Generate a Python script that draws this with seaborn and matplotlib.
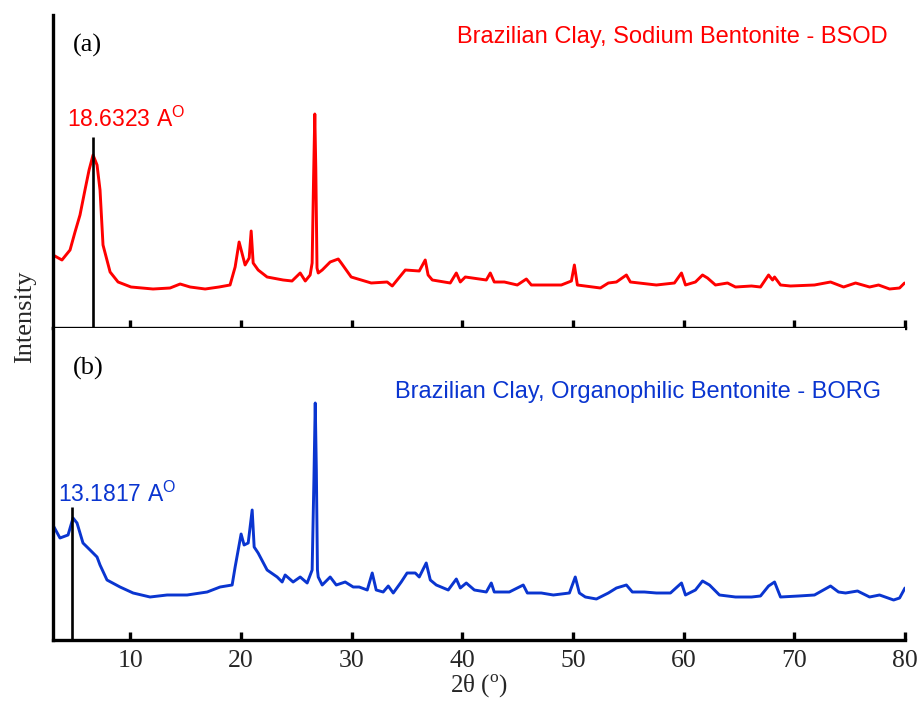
import numpy as np
import pandas as pd
import matplotlib
matplotlib.use("Agg")
import matplotlib.pyplot as plt
import seaborn as sns

# ---- data (2theta in degrees, intensity in arbitrary units) ----
bsod_2theta = [3.0, 3.81, 4.54, 4.99, 5.44, 5.89, 6.26, 6.62, 6.98, 7.25, 7.52, 8.16, 8.88,
               10.05, 12.04, 13.58, 14.49, 15.39, 16.75, 18.01, 19.0, 19.46, 19.82, 20.36,
               20.73, 20.91, 21.09, 21.54, 22.35, 23.8, 24.6, 25.34, 25.8, 26.24, 26.42,
               26.55, 26.66, 26.75, 26.86, 26.97, 27.33, 28.05, 28.78, 29.05, 29.95, 31.76,
               33.2, 33.66, 34.84, 36.1, 36.64, 36.9, 37.28, 38.9, 39.45, 39.81, 40.26,
               42.16, 42.52, 42.88, 43.79, 44.96, 45.78, 46.23, 48.94, 49.85, 50.12, 50.39,
               52.47, 53.19, 53.92, 54.82, 55.18, 57.53, 59.16, 59.8, 60.16, 61.06, 61.7,
               62.15, 62.87, 63.96, 64.68, 66.13, 66.94, 67.67, 68.03, 68.21, 68.75, 69.65,
               71.82, 73.27, 74.45, 75.53, 76.8, 77.61, 78.61, 79.51, 79.96]
bsod_int = [73, 68, 78, 96, 113, 138, 158, 173, 163, 138, 83, 56, 46,
            41, 39, 40, 44, 41, 39, 41, 43, 61, 86, 63,
            70, 97, 65, 58, 51, 48, 47, 55, 47, 53, 65,
            150, 214, 160, 60, 55, 58, 66, 69, 65, 51, 45,
            46, 42, 58, 57, 68, 53, 48, 45, 55, 46, 51,
            48, 55, 46, 46, 43, 49, 43, 43, 47, 63, 43,
            40, 45, 46, 53, 46, 43, 45, 55, 43, 46, 53,
            50, 43, 45, 41, 42, 41, 53, 48, 51, 43, 42,
            43, 46, 41, 45, 41, 43, 39, 40, 45]

borg_2theta = [3.09, 3.63, 4.36, 4.81, 5.17, 5.71, 6.35, 6.98, 7.25, 7.88, 9.06, 10.24, 11.77,
               13.31, 15.12, 16.93, 18.1, 19.19, 19.46, 20.0, 20.27, 20.64, 21.0, 21.18,
               21.54, 22.35, 23.26, 23.71, 23.98, 24.7, 25.34, 25.97, 26.42, 26.58, 26.7,
               26.8, 26.9, 26.97, 27.33, 27.6, 28.05, 28.6, 29.41, 30.13, 30.67, 31.4, 31.85,
               32.21, 32.84, 33.3, 33.75, 34.47, 35.0, 35.74, 36.1, 36.73, 37.1, 37.64,
               38.72, 39.45, 39.81, 40.35, 41.08, 42.16, 42.61, 42.88, 44.24, 45.5, 45.87,
               47.13, 48.22, 49.67, 50.2, 50.57, 51.11, 52.11, 53.19, 53.92, 54.82, 55.36,
               56.45, 57.53, 58.8, 59.8, 60.16, 61.06, 61.7, 62.33, 63.23, 64.68, 66.13,
               66.94, 67.67, 68.21, 68.75, 70.38, 71.82, 73.27, 73.99, 74.63, 75.71, 76.8,
               77.7, 78.97, 79.51, 80.0]
borg_int = [113, 102, 105, 122, 117, 97, 90, 83, 75, 60, 53, 47, 43,
            45, 45, 48, 53, 55, 73, 106, 95, 97, 130, 93,
            87, 70, 63, 58, 65, 58, 63, 57, 70, 160, 237,
            170, 70, 63, 55, 58, 63, 55, 58, 53, 53, 50, 67,
            50, 48, 54, 47, 58, 67, 67, 63, 77, 60, 55,
            50, 61, 52, 57, 50, 48, 57, 48, 48, 55, 47,
            47, 45, 47, 63, 47, 43, 41, 47, 52, 55, 48,
            48, 47, 47, 57, 45, 50, 59, 55, 45, 43, 43,
            44, 54, 58, 43, 44, 45, 54, 48, 47, 49, 43,
            45, 40, 42, 52]

# marked basal peaks (position, line top)
peak_pos = [6.62, 4.72]
peak_top = [191, 133]
peak_labels = ["18.6323 A$^{\\mathregular{O}}$", "13.1817 A$^{\\mathregular{O}}$"]
sample_titles = ["Brazilian Clay, Sodium Bentonite - BSOD",
                 "Brazilian Clay, Organophilic Bentonite - BORG"]
panel_tags = ["(a)", "(b)"]
xticks = [10, 20, 30, 40, 50, 60, 70, 80]

RED = "#ff0000"
BLUE = "#0a35d0"

sns.set_style("white")
plt.rcParams["font.family"] = ["Liberation Serif", "DejaVu Serif"]
plt.rcParams["mathtext.fontset"] = "custom"

fig = plt.figure(figsize=(9.21, 7.03), dpi=100)
left, width = 53 / 921, (905 - 53) / 921
ax_top = fig.add_axes([left, 1 - 328 / 703, width, 313 / 703])
ax_bot = fig.add_axes([left, 1 - 640 / 703, width, 312 / 703])

df_top = pd.DataFrame({"2theta": bsod_2theta, "I": bsod_int})
df_bot = pd.DataFrame({"2theta": borg_2theta, "I": borg_int})

sns.lineplot(data=df_top, x="2theta", y="I", ax=ax_top, color=RED, lw=2.1, sort=False)
sns.lineplot(data=df_bot, x="2theta", y="I", ax=ax_bot, color=BLUE, lw=2.1, sort=False)

colors = [RED, BLUE]
label_xy = [(4.27, 201), (3.45, 138)]
title_xy = [(78.43, 285), (77.8, 242)]
tag_xy = [(4.81, 283), (4.81, 272)]

for i, ax in enumerate([ax_top, ax_bot]):
    ax.vlines(peak_pos[i], 0, peak_top[i], color="black", lw=1.9, zorder=3)
    ax.set_xlim(3, 80)
    ax.set_ylim(0, 313 if i == 0 else 312)
    ax.set_yticks([])
    ax.set_ylabel("")
    ax.set_xlabel("")
    ax.set_xticks(xticks)
    for s in ["top", "right"]:
        ax.spines[s].set_visible(False)
    for s in ["left", "bottom"]:
        ax.spines[s].set_linewidth(2.4)
        ax.spines[s].set_color("black")
    ax.tick_params(axis="x", direction="in", length=6, width=2.4, color="black",
                   labelsize=18.5, pad=7, bottom=True)
    ax.text(label_xy[i][0], label_xy[i][1], peak_labels[i], color=colors[i],
            fontsize=16.5, family=["Liberation Sans", "DejaVu Sans"], va="baseline", ha="left")
    ax.text(title_xy[i][0], title_xy[i][1], sample_titles[i], color=colors[i],
            fontsize=17, family=["Liberation Sans", "DejaVu Sans"], va="baseline", ha="right")
    ax.text(tag_xy[i][0], tag_xy[i][1], panel_tags[i], color="black",
            fontsize=19, va="center", ha="left")

ax_top.tick_params(axis="x", labelbottom=False)
ax_bot.set_xlabel("2θ ($^{\\mathregular{o}}$)", fontsize=18, labelpad=1)
fig.text(25 / 921, 1 - 317 / 703, "Intensity", rotation=90, fontsize=19,
         ha="center", va="center")

fig.savefig("out.png", dpi=100)
